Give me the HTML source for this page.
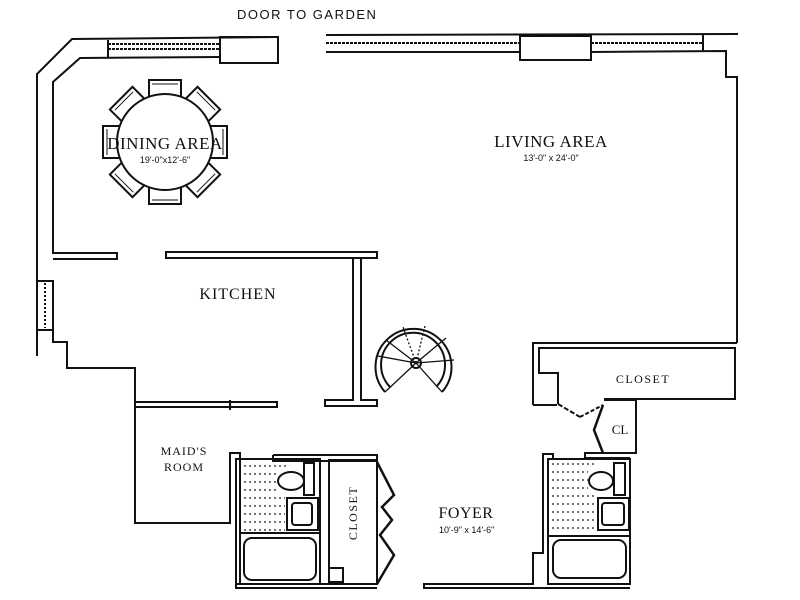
<!DOCTYPE html>
<html><head><meta charset="utf-8"><style>
html,body{margin:0;padding:0;background:#fff;}
svg{display:block;}
text{font-family:"Liberation Serif",serif;fill:#111;}
.s{font-family:"Liberation Sans",sans-serif;}
</style></head><body>
<svg width="800" height="600" viewBox="0 0 800 600" xmlns="http://www.w3.org/2000/svg">
<g fill="none" stroke="#111" stroke-width="2" stroke-linejoin="miter">
<polyline points="278,37 72,39 37,74 37,356"/>
<polyline points="220,57 80,58 53,82 53,253 117,253 117,259 53,259"/>
<line x1="108" y1="44" x2="220" y2="44" stroke-dasharray="3,1"/>
<line x1="108" y1="49" x2="220" y2="49" stroke-dasharray="3,1"/>
<line x1="108" y1="40" x2="108" y2="57"/>
<rect x="220" y="37" width="58" height="26"/>
<polyline points="326,35 738,34"/>
<polyline points="326,52 520,52"/>
<polyline points="591,52 726,51 726,77 737,77 737,343"/>
<line x1="326" y1="43" x2="520" y2="43" stroke-dasharray="3,1"/>
<line x1="591" y1="43" x2="703" y2="43" stroke-dasharray="3,1"/>
<line x1="703" y1="35" x2="703" y2="51"/>
<rect x="520" y="36" width="71" height="24"/>
<rect x="37" y="281" width="16" height="49"/>
<line x1="45" y1="283" x2="45" y2="328" stroke-dasharray="2,2"/>
<polyline points="53,330 53,342 67,342 67,368 135,368 135,402"/>
<rect x="166" y="252" width="211" height="6"/>
<polyline points="353,258 353,400 325,400 325,406 377,406 377,400 361,400 361,258"/>
<rect x="135" y="402" width="142" height="5"/>
<line x1="230" y1="400" x2="230" y2="410"/>
<polyline points="135,407 135,523 230,523 230,453 237,453"/>
<polyline points="237,453 240,453 240,459 236,459 236,588 377,588"/>
<line x1="236" y1="584" x2="377" y2="584"/>
<rect x="240" y="459" width="80" height="125"/>
<polyline points="273,455 377,455 377,461 273,461 273,455"/>
<rect x="304" y="463" width="10" height="32"/>
<ellipse cx="291" cy="481" rx="13" ry="9"/>
<rect x="287" y="498" width="31" height="32"/>
<rect x="292" y="503" width="20" height="22" rx="3"/>
<line x1="240" y1="533" x2="320" y2="533"/>
<rect x="244" y="538" width="72" height="42" rx="8"/>
<rect x="329" y="460" width="48" height="124"/>
<rect x="329" y="568" width="14" height="14"/>
<polyline points="377,462 394,495 382,507 392,520 380,535 394,555 377,584" stroke-width="2.5"/>
<path d="M442,392 A38,38 0 1 0 385,392"/>
<path d="M437,386 A32,32 0 1 0 390,387"/>
<circle cx="416" cy="363" r="5" fill="#fff"/>
<g stroke-width="1.3">
<line x1="416" y1="363" x2="442" y2="392"/><line x1="416" y1="363" x2="454" y2="360"/>
<line x1="416" y1="363" x2="446" y2="338"/><line x1="416" y1="363" x2="425" y2="326" stroke-dasharray="2,2"/>
<line x1="416" y1="363" x2="403" y2="327" stroke-dasharray="2,2"/><line x1="416" y1="363" x2="386" y2="340"/>
<line x1="416" y1="363" x2="378" y2="356"/><line x1="416" y1="363" x2="385" y2="392"/>
</g>
<polyline points="533,405 533,343 737,343"/>
<polyline points="557,405 533,405"/>
<polyline points="558,404 558,373 539,373 539,348 735,348 735,399 604,399"/>
<polyline points="558,404 580,417" stroke-dasharray="5,2"/>
<polyline points="580,417 603,405" stroke-dasharray="4,2"/>
<polyline points="604,400 636,400 636,453 585,453 585,458 630,458"/>
<polyline points="603,405 594,430 603,453" stroke-width="2.5"/>
<polyline points="553,459 553,454 543,454 543,553 533,553 533,584 424,584 424,588 630,588"/>
<rect x="548" y="459" width="82" height="125"/>
<rect x="614" y="463" width="11" height="32"/>
<ellipse cx="601" cy="481" rx="12" ry="9"/>
<rect x="598" y="498" width="31" height="32"/>
<rect x="602" y="503" width="22" height="22" rx="3"/>
<line x1="548" y1="536" x2="630" y2="536"/>
<rect x="553" y="540" width="73" height="38" rx="8"/>
<g transform="translate(165,142)">
<g id="ch"><rect x="-16" y="-62" width="32" height="20"/><line x1="-13" y1="-58" x2="13" y2="-58" stroke-width="1"/></g>
<use href="#ch" transform="rotate(45)"/><use href="#ch" transform="rotate(90)"/><use href="#ch" transform="rotate(135)"/>
<use href="#ch" transform="rotate(180)"/><use href="#ch" transform="rotate(225)"/><use href="#ch" transform="rotate(270)"/><use href="#ch" transform="rotate(315)"/>
<circle cx="0" cy="0" r="48" fill="#fff"/>
</g>
</g>
<g stroke="#222" stroke-width="1.3" stroke-dasharray="2,3">
<line x1="244" y1="466" x2="286" y2="466"/><line x1="244" y1="474" x2="278" y2="474"/><line x1="244" y1="482" x2="278" y2="482"/><line x1="244" y1="490" x2="278" y2="490"/><line x1="244" y1="498" x2="285" y2="498"/><line x1="244" y1="506" x2="285" y2="506"/><line x1="244" y1="514" x2="285" y2="514"/><line x1="244" y1="522" x2="285" y2="522"/><line x1="244" y1="530" x2="285" y2="530"/>
<line x1="552" y1="464" x2="595" y2="464"/><line x1="552" y1="472" x2="588" y2="472"/><line x1="552" y1="480" x2="588" y2="480"/><line x1="552" y1="488" x2="588" y2="488"/><line x1="552" y1="496" x2="596" y2="496"/><line x1="552" y1="504" x2="596" y2="504"/><line x1="552" y1="512" x2="596" y2="512"/><line x1="552" y1="520" x2="596" y2="520"/><line x1="552" y1="528" x2="596" y2="528"/>
</g>
<text x="237" y="19" font-size="13" letter-spacing="1.5" style="font-family:'Liberation Sans',sans-serif">DOOR TO GARDEN</text>
<text x="165" y="149" font-size="17" text-anchor="middle" letter-spacing="0.5">DINING AREA</text>
<text x="165" y="163" font-size="9" text-anchor="middle" class="s">19'-0"x12'-6"</text>
<text x="551" y="147" font-size="17" text-anchor="middle" letter-spacing="0.5">LIVING AREA</text>
<text x="551" y="161" font-size="9" text-anchor="middle" class="s">13'-0" x 24'-0"</text>
<text x="238" y="299" font-size="16" text-anchor="middle" letter-spacing="1">KITCHEN</text>
<text x="643" y="383" font-size="12" text-anchor="middle" letter-spacing="1.5">CLOSET</text>
<text x="620" y="434" font-size="13" text-anchor="middle">CL</text>
<text x="184" y="455" font-size="12" text-anchor="middle" letter-spacing="1">MAID'S</text>
<text x="184" y="471" font-size="12" text-anchor="middle" letter-spacing="1">ROOM</text>
<text x="466" y="518" font-size="16" text-anchor="middle" letter-spacing="0.5">FOYER</text>
<text x="439" y="533" font-size="9" class="s">10'-9" x 14'-6"</text>
<text x="0" y="0" font-size="12" text-anchor="middle" letter-spacing="1.5" transform="translate(357,513) rotate(-90)">CLOSET</text>
</svg>
</body></html>
